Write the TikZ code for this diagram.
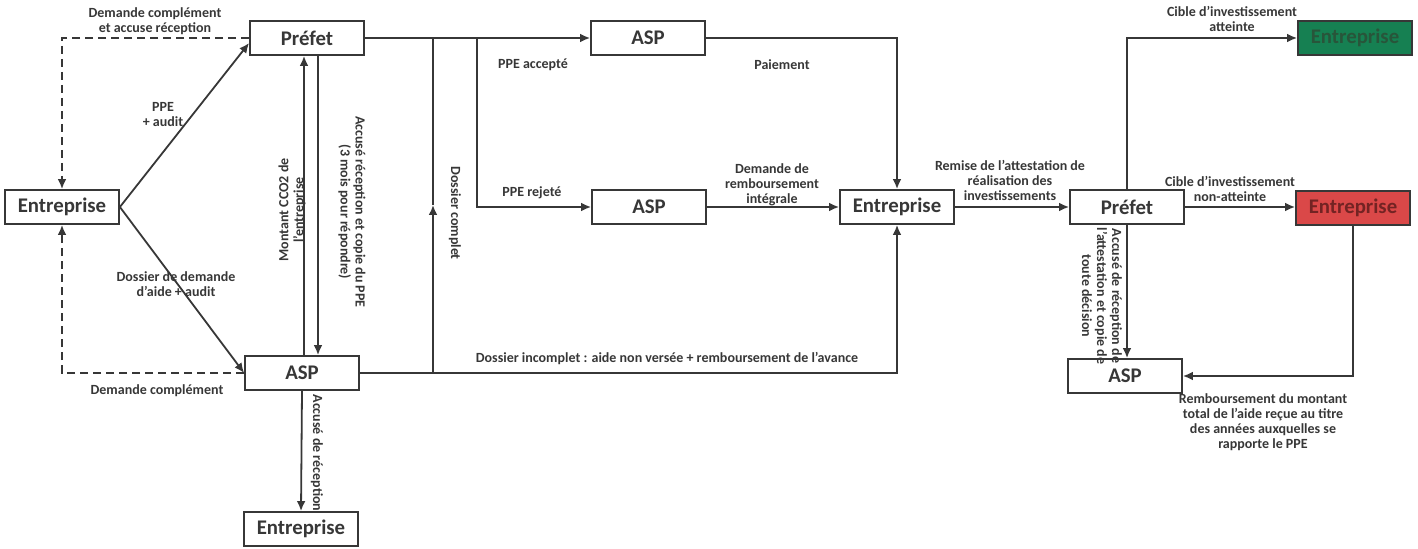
\documentclass[tikz,border=0pt]{standalone}
\usepackage{fontspec}
\setmainfont{Carlito}
\usetikzlibrary{arrows.meta}
\usetikzlibrary{calc,shapes,positioning}
\definecolor{flowGray}{RGB}{55,55,55}
\definecolor{okGreen}{RGB}{22,128,82}
\definecolor{okGreenText}{RGB}{40,85,58}
\definecolor{koRed}{RGB}{218,72,72}
\definecolor{koRedText}{RGB}{115,35,35}

\begin{document}
\begin{tikzpicture}[x=0.5pt,y=-0.5pt,line width=0.9pt,color=flowGray,every node/.style=rectangle,
    actor/.style={draw, fill=white, minimum height=17pt, minimum width=57pt, inner sep=1pt, font=\bfseries\fontsize{10.4}{12}\selectfont},
    caption/.style={align=center, inner sep=0pt, font=\bfseries\fontsize{7}{7.5}\selectfont},
    flow/.style={-{Latex[length=5pt,width=4.4pt]}},
    ask/.style={flow, dash pattern=on 4pt off 2.5pt},
    ]
    \useasboundingbox (0,0) rectangle (1418,549);

    \node[actor] (ent1) at (62,207) {Entreprise};
    \node[actor] (pref1) at (307,38) {Préfet};
    \node[actor] (asp1) at (302,373) {ASP};
    \node[actor] (ent2) at (301,529) {Entreprise};
    \node[actor] (asp2) at (648,38) {ASP};
    \node[actor] (asp3) at (649,207) {ASP};
    \node[actor] (ent3) at (897,207) {Entreprise};
    \node[actor] (pref2) at (1127,207) {Préfet};
    \node[actor] (asp4) at (1125,376) {ASP};
    \node[actor, fill=okGreen, text=okGreenText] (entOk) at (1355,38) {Entreprise};
    \node[actor, fill=koRed, text=koRedText] (entKo) at (1353,208) {Entreprise};

    \coordinate (upX) at (304,0);
    \coordinate (downX) at (318,0);
    \coordinate (okX) at (433,0);
    \coordinate (okMid) at (433,205);
    \coordinate (splitX) at (477,0);

    % depot du dossier
    \draw[flow] (ent1.east) -- ($(pref1.west)+(0,5)$);
    \draw[flow] (ent1.east) -- (asp1.west);
    \draw[ask] (pref1.west) -| (ent1.north);
    \draw[ask] (asp1.west) -| (ent1.south);
    \draw[flow] (asp1.north -| upX) -- (pref1.south -| upX);
    \draw[flow] (pref1.south -| downX) -- (asp1.north -| downX);
    \draw[flow] (asp1.south) -- (ent2.north);

    % instruction
    \draw[flow] (pref1.east) -- (asp2.west);
    \draw[flow] (asp1.east -| okX) -- (okMid);
    \draw (okMid) -- (pref1.east -| okX);
    \draw[flow] (pref1.east -| splitX) |- (asp3.west);
    \draw[flow] (asp1.east) -| (ent3.south);
    \draw[flow] (asp2.east) -| (ent3.north);
    \draw[flow] (asp3.east) -- (ent3.west);

    % controle final
    \draw[flow] (ent3.east) -- (pref2.west);
    \draw[flow] (pref2.north) |- (entOk.west);
    \draw[flow] (pref2.east) -- (pref2.east -| entKo.west);
    \draw[flow] (pref2.south) -- (pref2.south |- asp4.north);
    \draw[flow] (entKo.south) |- (asp4.east);

    \node[caption] (lblAskPref) at (155,21) {Demande complément\\et accuse réception};
    \node[caption] (lblPPE) at (163,115) {PPE\\+ audit};
    \node[caption] (lblDossier) at (176,284) {Dossier de demande\\d’aide + audit};
    \node[caption] (lblAskAsp) at (157,391) {Demande complément};
    \node[caption, rotate=90] (lblCO2) at (292,210) {Montant CCO2 de\\l’entreprise};
    \node[caption, rotate=-90] (lblAccPPE) at (352,212) {Accusé réception et copie du PPE\\(3 mois pour répondre)};
    \node[caption, rotate=-90] (lblAccAsp) at (317,453) {Accusé de réception};
    \node[caption, rotate=-90] (lblComplet) at (455,213) {Dossier complet};
    \node[caption] (lblAccepte) at (533,65) {PPE accepté};
    \node[caption] (lblRejete) at (532,193) {PPE rejeté};
    \node[caption] (lblPaiement) at (782,65) {Paiement};
    \node[caption] (lblRemb) at (772,185) {Demande de\\remboursement\\intégrale};
    \node[caption] (lblIncomplet) at (667,359) {Dossier incomplet : aide non versée + remboursement de l’avance};
    \node[caption] (lblRemise) at (1010,180) {Remise de l’attestation de\\réalisation des\\investissements};
    \node[caption] (lblAtteinte) at (1232,19) {Cible d’investissement\\atteinte};
    \node[caption] (lblNonAtteinte) at (1230,189) {Cible d’investissement\\non-atteinte};
    \node[caption, rotate=-90] (lblAccPref) at (1102,296) {Accusé de réception de\\l’attestation et copie de\\toute décision};
    \node[caption] (lblRembTotal) at (1263,422) {Remboursement du montant\\total de l’aide reçue au titre\\des années auxquelles se\\rapporte le PPE};
  \end{tikzpicture}
\end{document}
